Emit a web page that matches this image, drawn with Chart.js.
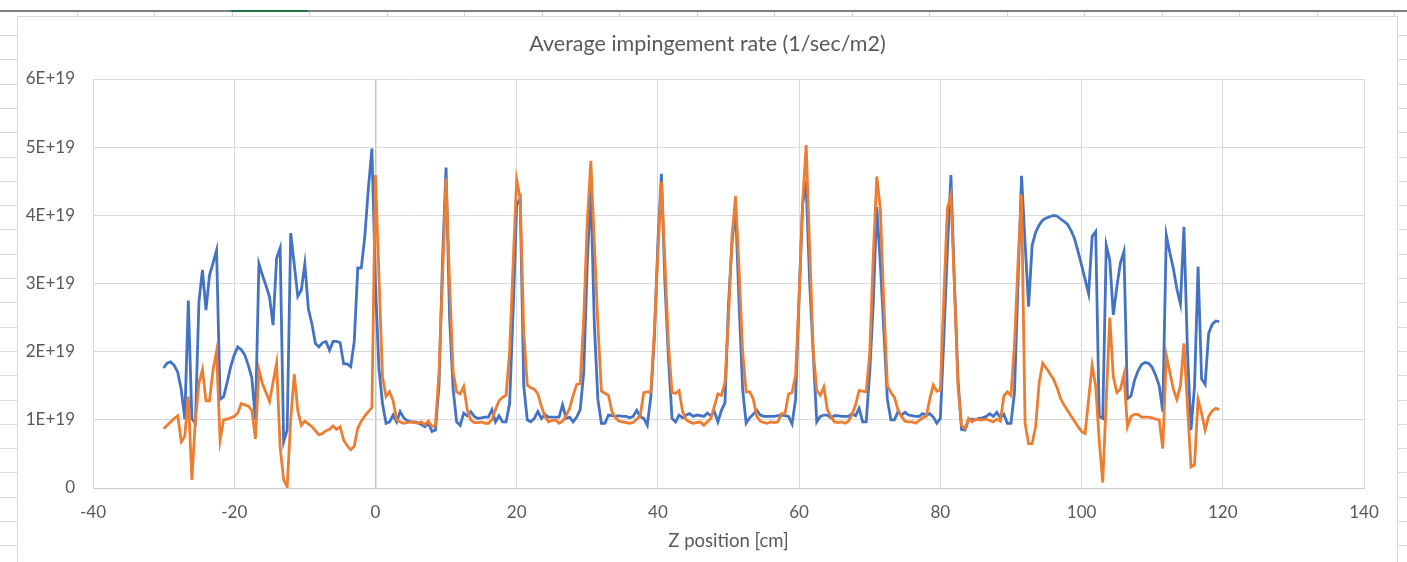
<!DOCTYPE html>
<html>
<head>
<meta charset="utf-8">
<title>Average impingement rate</title>
<script src="https://cdn.jsdelivr.net/npm/chart.js@4.4.1/dist/chart.umd.min.js"></script>
<style>
    html, body { margin: 0; padding: 0; background: #fff; }
    body { width: 1407px; height: 562px; position: relative; overflow: hidden; }
    .sheet-row { position: absolute; left: 0; width: 1407px; height: 1px; background: #dadada; }
    .sheet-col { position: absolute; top: 12px; width: 1px; height: 4px; background: #d4d4d4; }
    #header-line { position: absolute; left: 0; top: 10px; width: 1407px; height: 2px; background: #7f7f7f; }
    #header-sel { position: absolute; left: 231px; top: 10px; width: 77px; height: 2px; background: #217346; }
    #frame { position: absolute; left: 17px; top: 16px; width: 1381px; height: 560px; box-sizing: border-box; border: 1px solid #d9d9d9; background: #fff; }
    #wrap { position: absolute; left: 17px; top: 16px; width: 1381px; height: 546px; }
</style>
</head>
<body>
<div id="sheet"></div>
<div id="header-line"></div>
<div id="header-sel"></div>
<div id="frame"></div>
<div id="wrap"><canvas id="rateChart" width="1381" height="546"></canvas></div>

<script>
// z grid of the samples (cm)
const zStart = -30;
const zStep = 0.5;

// rates in units of 1E+19 1/sec/m2, one value per z step
const series1Rate = [
    1.76, 1.83, 1.85, 1.80, 1.70, 1.44, 1.01, 2.75, 1.02, 0.95, 2.73, 3.20, 2.61, 3.12, 3.30, 3.49, 1.30, 1.34, 1.55, 1.78,
    1.95, 2.07, 2.03, 1.95, 1.80, 1.61, 1.00, 3.29, 3.12, 2.97, 2.80, 2.39, 3.37, 3.52, 0.68, 0.85, 3.74, 3.28, 2.81, 2.90,
    3.29, 2.63, 2.41, 2.12, 2.07, 2.13, 2.15, 2.02, 2.15, 2.15, 2.13, 1.82, 1.82, 1.78, 2.15, 3.23, 3.23, 3.70, 4.40, 4.98,
    3.00, 1.75, 1.24, 0.95, 0.97, 1.07, 0.97, 1.12, 1.03, 0.99, 0.97, 0.97, 0.96, 0.93, 0.90, 0.95, 0.83, 0.85, 1.50, 3.34,
    4.70, 2.50, 1.45, 0.97, 0.92, 1.10, 1.06, 1.12, 1.05, 1.02, 1.03, 1.04, 1.04, 1.15, 0.97, 1.06, 0.97, 0.97, 1.24, 2.60,
    4.15, 4.25, 1.50, 1.00, 0.97, 1.02, 1.12, 1.02, 1.08, 1.04, 1.04, 1.04, 1.04, 1.22, 1.02, 1.04, 0.97, 1.04, 1.15, 1.70,
    3.30, 4.40, 2.40, 1.30, 0.95, 0.95, 1.07, 1.06, 1.05, 1.06, 1.05, 1.05, 1.03, 1.05, 1.14, 1.05, 1.02, 0.92, 1.34, 2.20,
    3.60, 4.61, 3.00, 1.90, 1.02, 0.97, 1.07, 1.03, 1.07, 1.09, 1.05, 1.07, 1.06, 1.05, 1.10, 1.06, 1.12, 0.97, 1.14, 1.25,
    2.70, 3.60, 4.12, 2.70, 1.45, 0.95, 1.03, 1.08, 1.14, 1.07, 1.05, 1.05, 1.05, 1.05, 1.06, 1.07, 1.06, 1.05, 0.94, 1.30,
    2.80, 4.17, 4.45, 3.00, 1.97, 0.97, 1.05, 1.07, 1.07, 1.03, 1.06, 1.06, 1.05, 1.05, 1.05, 1.09, 1.06, 1.17, 0.97, 0.97,
    1.70, 2.70, 4.12, 3.30, 2.30, 1.30, 1.00, 1.00, 1.12, 1.07, 1.11, 1.07, 1.06, 1.05, 1.05, 1.09, 1.07, 1.09, 1.04, 0.95,
    1.02, 2.20, 3.50, 4.59, 3.00, 1.60, 0.86, 0.85, 1.00, 1.01, 1.00, 1.02, 1.03, 1.05, 1.09, 1.05, 1.11, 1.03, 1.08, 0.95,
    0.95, 1.40, 3.00, 4.58, 3.60, 2.66, 3.56, 3.75, 3.86, 3.93, 3.96, 3.98, 4.00, 3.99, 3.95, 3.91, 3.87, 3.78, 3.66, 3.47,
    3.27, 3.06, 2.85, 3.69, 3.76, 1.05, 1.02, 3.56, 3.34, 2.54, 2.95, 3.30, 3.47, 1.31, 1.35, 1.58, 1.72, 1.81, 1.84, 1.83,
    1.77, 1.65, 1.50, 1.12, 3.71, 3.45, 3.22, 2.92, 2.70, 3.83, 2.00, 0.85, 1.49, 3.25, 1.60, 1.52, 2.27, 2.40, 2.45, 2.44
];

const series2Rate = [
    0.87, 0.92, 0.97, 1.02, 1.06, 0.68, 0.76, 1.34, 0.12, 1.00, 1.53, 1.74, 1.28, 1.28, 1.73, 2.01, 0.70, 1.00, 1.01, 1.03,
    1.05, 1.10, 1.24, 1.22, 1.20, 1.14, 0.72, 1.73, 1.53, 1.40, 1.27, 1.55, 1.83, 0.60, 0.12, 0.02, 1.00, 1.67, 1.14, 0.92,
    0.98, 0.94, 0.90, 0.84, 0.78, 0.80, 0.84, 0.86, 0.91, 0.86, 0.90, 0.70, 0.62, 0.56, 0.61, 0.88, 0.98, 1.06, 1.12, 1.18,
    4.59, 3.10, 1.63, 1.34, 1.41, 1.28, 1.00, 0.97, 0.95, 0.96, 0.97, 0.96, 0.95, 0.97, 0.93, 0.98, 0.90, 0.92, 1.70, 3.10,
    4.54, 3.00, 1.70, 1.41, 1.38, 1.49, 1.15, 1.00, 0.96, 0.96, 0.97, 0.95, 0.95, 1.00, 1.15, 1.28, 1.33, 1.36, 2.00, 3.30,
    4.52, 4.25, 2.30, 1.51, 1.47, 1.45, 1.38, 1.20, 1.05, 0.97, 0.99, 1.00, 0.95, 0.98, 1.06, 1.17, 1.36, 1.52, 1.53, 2.50,
    3.90, 4.80, 3.60, 2.40, 1.42, 1.39, 1.36, 1.12, 1.03, 0.98, 0.97, 0.96, 0.95, 0.96, 1.01, 1.06, 1.40, 1.41, 1.41, 2.30,
    3.44, 4.49, 3.30, 2.10, 1.40, 1.39, 1.43, 1.12, 1.00, 0.97, 0.95, 0.96, 0.97, 0.92, 0.97, 1.02, 1.20, 1.38, 1.36, 1.55,
    2.50, 3.70, 4.28, 3.20, 2.00, 1.41, 1.41, 1.31, 1.05, 0.98, 0.96, 0.95, 0.97, 0.96, 0.97, 1.09, 1.09, 1.38, 1.40, 1.65,
    2.80, 4.20, 5.03, 3.50, 2.00, 1.43, 1.36, 1.48, 1.15, 1.05, 0.97, 0.96, 0.97, 0.95, 0.98, 1.08, 1.22, 1.43, 1.42, 1.41,
    1.97, 3.40, 4.57, 4.10, 2.70, 1.50, 1.40, 1.33, 1.15, 1.05, 0.98, 0.97, 0.97, 0.95, 0.99, 1.03, 1.05, 1.30, 1.51, 1.42,
    1.44, 2.80, 4.10, 4.30, 2.95, 1.49, 0.92, 0.87, 1.02, 0.97, 1.01, 1.00, 1.00, 1.01, 0.99, 0.97, 1.01, 0.98, 1.35, 1.41,
    1.36, 2.10, 3.30, 4.30, 0.95, 0.65, 0.65, 0.90, 1.55, 1.83, 1.76, 1.68, 1.60, 1.48, 1.32, 1.22, 1.14, 1.06, 0.98, 0.90,
    0.83, 0.80, 1.30, 1.80, 1.50, 0.70, 0.08, 1.30, 2.50, 1.63, 1.40, 1.45, 1.66, 0.90, 1.05, 1.08, 1.08, 1.04, 1.04, 1.04,
    1.03, 1.01, 1.00, 0.58, 1.95, 1.70, 1.45, 1.30, 1.50, 2.12, 1.20, 0.31, 0.34, 1.30, 1.10, 0.85, 1.05, 1.13, 1.17, 1.15
];

// axis bounds
const xMin = -40, xMax = 140, xStep = 20;
const yMin = 0, yMax = 6, yStep = 1;   // in 1E+19
const unit = 1e19;

const textGrey = '#595959';
const gridGrey = '#d9d9d9';

// spreadsheet lines behind the chart
const sheet = document.getElementById('sheet');
for (let k = 0; k < 22; k++) {
    const row = document.createElement('div');
    row.className = 'sheet-row';
    row.style.top = Math.round(35 + 24.3 * k) + 'px';
    sheet.appendChild(row);
}
for (let k = 1; k < 19; k++) {
    const col = document.createElement('div');
    col.className = 'sheet-col';
    col.style.left = Math.round(-1 + 77.5 * k) + 'px';
    sheet.appendChild(col);
}

const toPoints = rates => rates.map((r, i) => ({ x: zStart + i * zStep, y: r * unit }));

const ctx = document.getElementById('rateChart').getContext('2d');

new Chart(ctx, {
    type: 'line',
    data: {
        datasets: [
            { label: 'Series1', data: toPoints(series1Rate), borderColor: '#4472c4', borderWidth: 2.8, pointRadius: 0, tension: 0, order: 2 },
            { label: 'Series2', data: toPoints(series2Rate), borderColor: '#ed7d31', borderWidth: 2.8, pointRadius: 0, tension: 0, order: 1 }
        ]
    },
    options: {
        responsive: false,
        animation: false,
        layout: { padding: 0 },
        plugins: {
            legend: { display: false },
            tooltip: { enabled: false },
            title: {
                display: true,
                text: 'Average impingement rate (1/sec/m2)',
                color: textGrey,
                font: { family: 'Lato', size: 21.5, weight: 'normal' },
                padding: { top: 15, bottom: 22.2 }
            }
        },
        scales: {
            x: {
                type: 'linear',
                min: xMin,
                max: xMax,
                ticks: { stepSize: xStep, color: textGrey, padding: 14, font: { family: 'Lato', size: 17 } },
                grid: {
                    drawTicks: false,
                    color: c => c.tick && c.tick.value === 0 ? '#c6c6c6' : gridGrey,
                    lineWidth: c => c.tick && c.tick.value === 0 ? 1.5 : 1
                },
                border: { color: '#cccccc' },
                title: {
                    display: true,
                    text: 'Z position [cm]',
                    color: textGrey,
                    font: { family: 'Lato', size: 18.5 },
                    padding: { top: 0, bottom: 10 }
                },
                afterFit: scale => { scale.height = 74; }
            },
            y: {
                min: yMin * unit,
                max: yMax * unit,
                ticks: {
                    stepSize: yStep * unit,
                    color: textGrey,
                    padding: 18,
                    font: { family: 'Lato', size: 17 },
                    callback: v => v === 0 ? '0' : Math.round(v / unit) + 'E+19'
                },
                grid: { drawTicks: false, color: gridGrey },
                border: { color: gridGrey },
                afterFit: scale => { scale.width = 76; }
            },
            // empty strip on the right so the plot ends short of the frame
            spacer: {
                type: 'linear',
                position: 'right',
                display: true,
                ticks: { display: false },
                grid: { display: false, drawTicks: false },
                border: { display: false },
                afterFit: scale => { scale.width = 34; }
            }
        }
    }
});
</script>
</body>
</html>
